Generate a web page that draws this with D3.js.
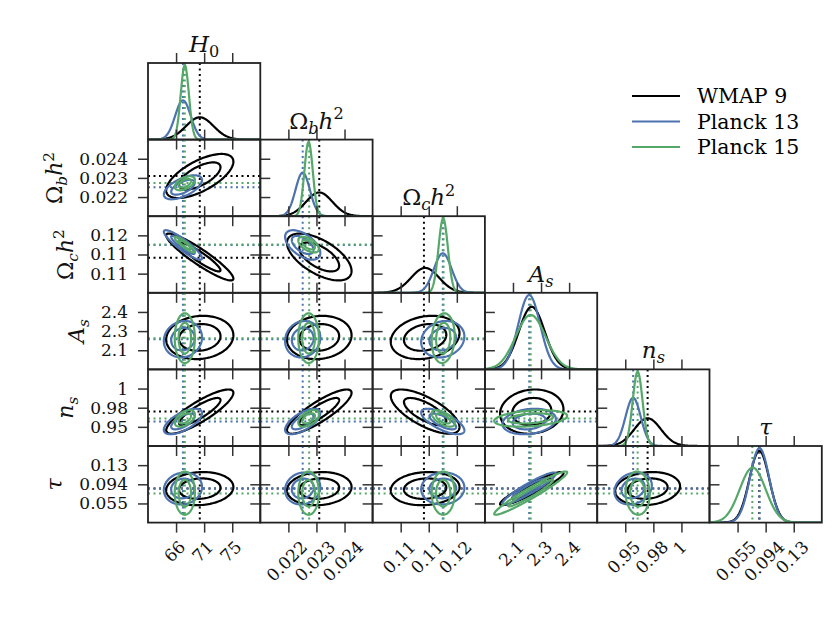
<!DOCTYPE html>
<html>
<head>
<meta charset="utf-8">
<script src="https://cdn.jsdelivr.net/npm/d3@7"></script>
<style>
  body { margin: 0; background: #fff; }
</style>
</head>
<body>
<svg width="840" height="626"></svg>
<script>
// parameter axes: domain, tick positions, tick labels
const params = ["H0", "ombh2", "omch2", "As", "ns", "tau"];
const domains = [[61.7, 79.7], [0.021, 0.025], [0.100, 0.128], [2.01, 2.53], [0.926, 1.026], [0.016, 0.172]];
const tickValues = [[66.2, 70.7, 75.2], [0.022, 0.023, 0.024], [0.107, 0.114, 0.121], [2.14, 2.27, 2.40], [0.951, 0.976, 1.001], [0.055, 0.094, 0.133]];
const tickLabels = [["66", "71", "75"], ["0.022", "0.023", "0.024"], ["0.11", "0.11", "0.12"], ["2.1", "2.3", "2.4"], ["0.95", "0.98", "1"], ["0.055", "0.094", "0.13"]];

// label pieces: [text, kind]  i = italic, n = upright, sub/subi = subscript, sup = superscript
const labelParts = [
  [["H", "i"], ["0", "sub"]],
  [["Ω", "n"], ["b", "subi"], ["h", "i"], ["2", "sup"]],
  [["Ω", "n"], ["c", "subi"], ["h", "i"], ["2", "sup"]],
  [["A", "i"], ["s", "subi"]],
  [["n", "i"], ["s", "subi"]],
  [["τ", "i"]]
];

// datasets
const names = ["WMAP 9", "Planck 13", "Planck 15"];
const colors = ["#000000", "#4c72b0", "#55a868"];

const wmapMean = [70.0, 0.0231, 0.1131, 2.227, 0.9709, 0.0852];
const p13Mean = [67.3, 0.02251, 0.1175, 2.215, 0.958, 0.0855];
const p15Mean = [67.6, 0.02272, 0.1176, 2.222, 0.962, 0.076];

const wmapSigma = [2.2, 0.00047, 0.0035, 0.060, 0.0118, 0.0138];
const p13Sigma = [1.25, 0.000256, 0.0022, 0.0505, 0.0068, 0.0133];
const p15Sigma = [0.66, 0.00015, 0.00117, 0.069, 0.0044, 0.018];

// best-fit markers (dotted lines); null = not drawn
const wmapBest = [70.0, 0.0231, 0.1128, null, 0.9709, 0.0852];
const p13Best = [67.3, 0.02251, 0.1175, 2.215, 0.958, 0.0855];
const p15Best = [67.6, 0.02274, 0.1177, 2.222, 0.962, 0.0755];

// correlations, order (1,0),(2,0),(2,1),(3,0),(3,1),(3,2),(4,0)..(4,3),(5,0)..(5,4)
const wmapRho = [0.65, -0.92, -0.6, 0.1, 0.1, 0.2, 0.85, 0.85, -0.7, 0.1, 0.1, 0.1, 0.1, 0.93, 0.15];
const p13Rho = [0.6, -0.9, -0.55, 0.1, 0.1, 0.15, 0.65, 0.65, -0.7, 0.2, 0.1, 0.1, 0.05, 0.93, 0.2];
const p15Rho = [0.5, -0.9, -0.55, 0.0, 0.0, 0.1, 0.5, 0.5, -0.6, 0.3, 0.0, 0.0, 0.0, 0.96, -0.05];

const means = [wmapMean, p13Mean, p15Mean];
const sigmas = [wmapSigma, p13Sigma, p15Sigma];
const bests = [wmapBest, p13Best, p15Best];
const rhos = [wmapRho, p13Rho, p15Rho];

const levels = [1.509, 2.448]; // 68% and 95% radii

const svg = d3.select("svg");
const defs = svg.append("defs");
const font = "DejaVu Serif";

const gridLeft = 148, gridTop = 63, cw = 112.3, ch = 76.6;
const n = params.length;
const px = j => gridLeft + j * cw;
const py = i => gridTop + i * ch;
const xs = j => d3.scaleLinear().domain(domains[j]).range([px(j), px(j) + cw]);
const ys = i => d3.scaleLinear().domain(domains[i]).range([py(i) + ch, py(i)]);
const rhoOf = (k, i, j) => rhos[k][i * (i - 1) / 2 + j];

function addMath(text, parts, fs) {
  let shift = 0;
  parts.forEach(([t, k]) => {
    const sub = k.startsWith("sub"), sup = k === "sup";
    const target = sub ? 0.22 * fs : sup ? -0.4 * fs : 0;
    text.append("tspan").text(t)
      .attr("dy", target - shift)
      .attr("font-size", (sub || sup) ? fs * 0.7 : fs)
      .attr("font-style", (k === "i" || k === "subi") ? "italic" : "normal");
    shift = target;
  });
}

function dotted(g, x1, y1, x2, y2, color) {
  g.append("line")
    .attr("x1", x1).attr("y1", y1).attr("x2", x2).attr("y2", y2)
    .attr("stroke", color).attr("stroke-width", 2)
    .attr("stroke-dasharray", "2,3.5");
}

function axis(g, gen, tx, ty, vals, labels, show) {
  const a = g.append("g").attr("transform", `translate(${tx},${ty})`)
    .call(gen.tickValues(vals).tickSize(10).tickSizeOuter(0).tickPadding(10)
      .tickFormat((d, k) => show ? labels[k] : ""));
  a.select(".domain").remove();
  a.selectAll(".tick line").attr("stroke", "#333").attr("stroke-width", 1.5);
  a.selectAll("text").attr("font-family", font).attr("font-size", 17).attr("fill", "#111");
  return a;
}

const angles = d3.range(0, 121).map(k => k / 120 * 2 * Math.PI);

for (let i = 0; i < n; i++) {
  for (let j = 0; j <= i; j++) {
    const x0 = px(j), y0 = py(i);
    const g = svg.append("g");
    const clipId = `clip${i}${j}`;
    defs.append("clipPath").attr("id", clipId)
      .append("rect").attr("x", x0).attr("y", y0).attr("width", cw).attr("height", ch);
    const inner = g.append("g").attr("clip-path", `url(#${clipId})`);
    const x = xs(j);

    if (i === j) {
      const maxPdf = d3.max(sigmas, s => 1 / (s[j] * Math.sqrt(2 * Math.PI)));
      const y = d3.scaleLinear().domain([0, maxPdf * 1.03]).range([y0 + ch, y0]);
      bests.forEach((b, k) => {
        if (b[j] != null) dotted(inner, x(b[j]), y0, x(b[j]), y0 + ch, colors[k]);
      });
      const grid = x.ticks(240);
      means.forEach((m, k) => {
        const mu = m[j], s = sigmas[k][j];
        const pdf = v => Math.exp(-0.5 * ((v - mu) / s) ** 2) / (s * Math.sqrt(2 * Math.PI));
        inner.append("path")
          .attr("d", d3.line().x(v => x(v)).y(v => y(pdf(v)))(grid))
          .attr("fill", "none").attr("stroke", colors[k]).attr("stroke-width", 2.2);
      });
      // title
      const t = svg.append("text")
        .attr("x", x0 + cw / 2).attr("y", y0 - 11)
        .attr("text-anchor", "middle").attr("font-family", font).attr("fill", "#111");
      addMath(t, labelParts[j], 23);
      axis(g, d3.axisTop(x), 0, y0, tickValues[j], tickLabels[j], false);
      axis(g, d3.axisBottom(x), 0, y0 + ch, tickValues[j], tickLabels[j], i === n - 1);
    } else {
      const y = ys(i);
      bests.forEach((b, k) => {
        if (b[j] != null) dotted(inner, x(b[j]), y0, x(b[j]), y0 + ch, colors[k]);
        if (b[i] != null) dotted(inner, x0, y(b[i]), x0 + cw, y(b[i]), colors[k]);
      });
      means.forEach((m, k) => {
        const mx = m[j], my = m[i], sx = sigmas[k][j], sy = sigmas[k][i];
        const r = rhoOf(k, i, j), q = Math.sqrt(1 - r * r);
        levels.forEach(L => {
          const line = d3.line()
            .x(a => x(mx + sx * L * Math.cos(a)))
            .y(a => y(my + sy * L * (r * Math.cos(a) + q * Math.sin(a))))
            .curve(d3.curveLinearClosed);
          inner.append("path").attr("d", line(angles))
            .attr("fill", "none").attr("stroke", colors[k]).attr("stroke-width", 2.2);
        });
      });
      axis(g, d3.axisTop(x), 0, y0, tickValues[j], tickLabels[j], false);
      axis(g, d3.axisBottom(x), 0, y0 + ch, tickValues[j], tickLabels[j], i === n - 1);
      const la = axis(g, d3.axisLeft(y), x0, 0, tickValues[i], tickLabels[i], j === 0);
      axis(g, d3.axisRight(y), x0 + cw, 0, tickValues[i], tickLabels[i], false);
      if (j === 0) {
        let minLeft = Infinity;
        la.selectAll("text").each(function () {
          const bb = this.getBBox();
          minLeft = Math.min(minLeft, x0 + bb.x);
        });
        const xb = minLeft - 17, yc = y0 + ch / 2;
        const t = svg.append("text")
          .attr("x", xb).attr("y", yc)
          .attr("transform", `rotate(-90,${xb},${yc})`)
          .attr("text-anchor", "middle").attr("font-family", font).attr("fill", "#111");
        addMath(t, labelParts[i], 22);
      }
    }
    g.append("rect").attr("x", x0).attr("y", y0).attr("width", cw).attr("height", ch)
      .attr("fill", "none").attr("stroke", "#222").attr("stroke-width", 1.8);
  }
}

// rotate bottom-row tick labels
svg.selectAll("g.tick text").each(function () {
  const txt = d3.select(this);
  if (!txt.text() || +txt.attr("y") <= 0) return;
  const L = this.getComputedTextLength();
  const c = 17 + (L + 12) / (2 * Math.SQRT2);
  txt.attr("x", -2).attr("y", c).attr("dy", "0.35em")
    .attr("text-anchor", "middle")
    .attr("transform", `rotate(-45,-2,${c})`);
});

// legend
const legend = svg.append("g");
names.forEach((nm, k) => {
  const yy = 96 + k * 25.5;
  legend.append("line").attr("x1", 632).attr("x2", 680).attr("y1", yy).attr("y2", yy)
    .attr("stroke", colors[k]).attr("stroke-width", 2.2);
  legend.append("text").attr("x", 697).attr("y", yy).attr("dy", "0.36em")
    .attr("font-family", font).attr("font-size", 20.5).attr("fill", "#000").text(nm);
});
</script>
</body>
</html>
